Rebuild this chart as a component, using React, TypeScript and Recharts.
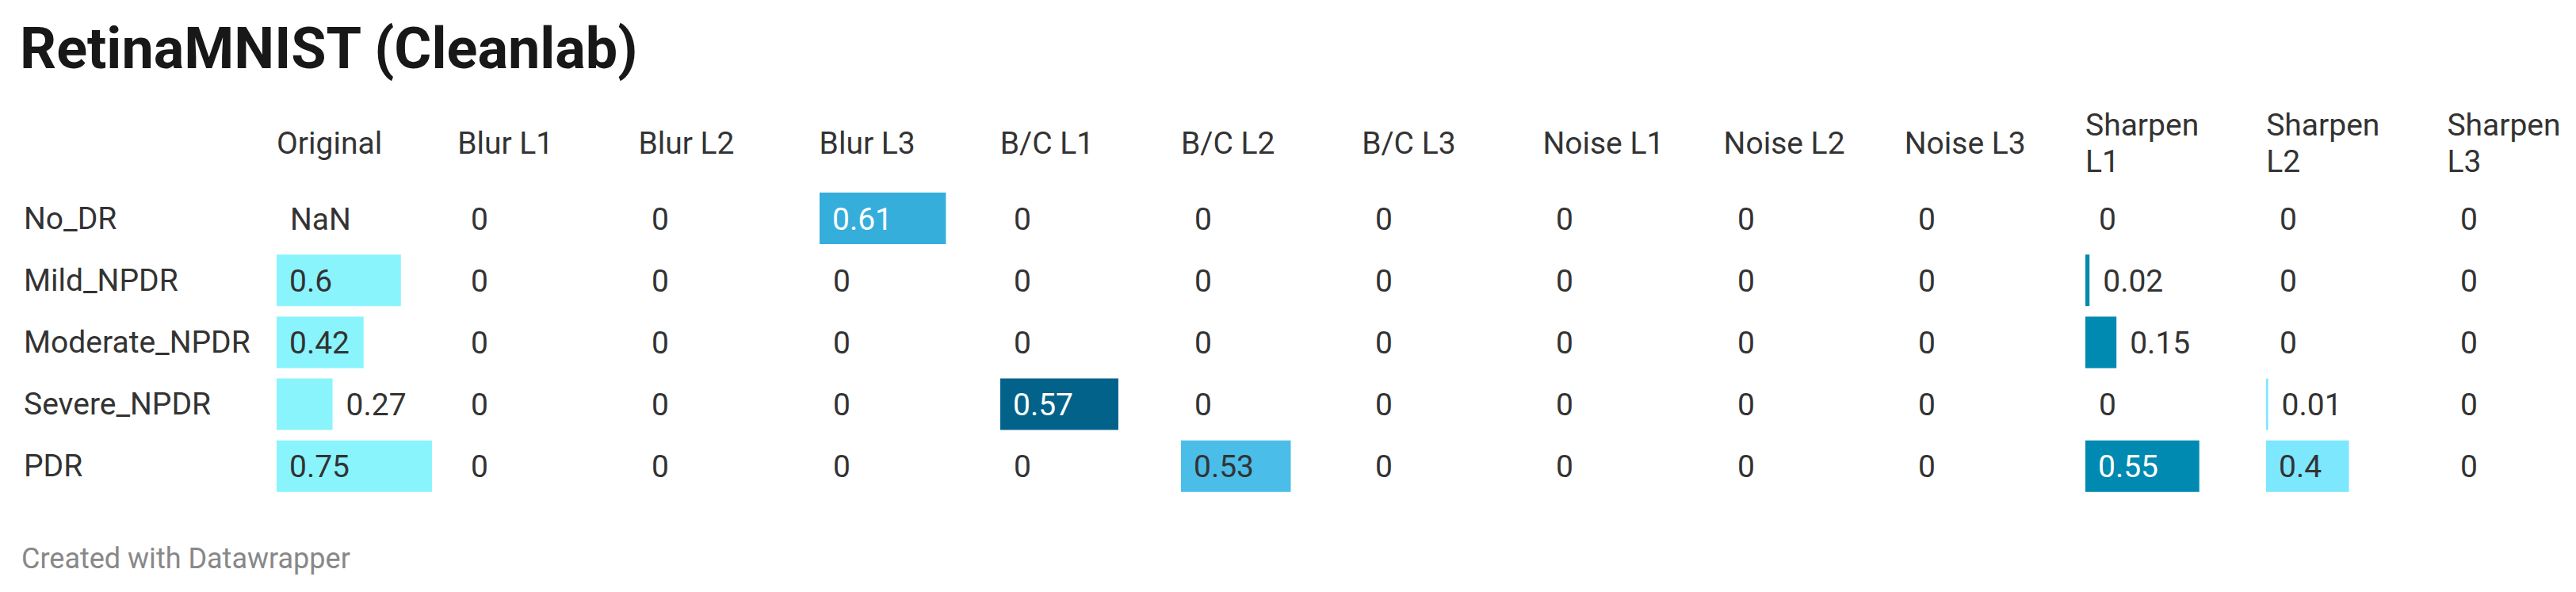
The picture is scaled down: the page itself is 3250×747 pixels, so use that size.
import { BarChart, Bar, XAxis, YAxis, LabelList } from 'recharts';

const rows = ['No_DR', 'Mild_NPDR', 'Moderate_NPDR', 'Severe_NPDR', 'PDR'];

const columns = [
  'Original',
  'Blur L1',
  'Blur L2',
  'Blur L3',
  'B/C L1',
  'B/C L2',
  'B/C L3',
  'Noise L1',
  'Noise L2',
  'Noise L3',
  'Sharpen L1',
  'Sharpen L2',
  'Sharpen L3',
];

// one list per column, in row order (null = NaN)
const original = [null, 0.6, 0.42, 0.27, 0.75];
const blurL1 = [0, 0, 0, 0, 0];
const blurL2 = [0, 0, 0, 0, 0];
const blurL3 = [0.61, 0, 0, 0, 0];
const bcL1 = [0, 0, 0, 0.57, 0];
const bcL2 = [0, 0, 0, 0, 0.53];
const bcL3 = [0, 0, 0, 0, 0];
const noiseL1 = [0, 0, 0, 0, 0];
const noiseL2 = [0, 0, 0, 0, 0];
const noiseL3 = [0, 0, 0, 0, 0];
const sharpenL1 = [0, 0.02, 0.15, 0, 0.55];
const sharpenL2 = [0, 0, 0, 0.01, 0.4];
const sharpenL3 = [0, 0, 0, 0, 0];

const values = [
  original, blurL1, blurL2, blurL3, bcL1, bcL2, bcL3,
  noiseL1, noiseL2, noiseL3, sharpenL1, sharpenL2, sharpenL3,
];

const barColors = [
  '#8af4fd', '#8af4fd', '#8af4fd', '#35aedb', '#02628a', '#4abee9', '#4abee9',
  '#4abee9', '#4abee9', '#4abee9', '#0089b1', '#7de7fe', '#7de7fe',
];
const whiteText = ['Blur L3', 'B/C L1', 'Sharpen L1'];

const FONT = 'Roboto, "Noto Sans", sans-serif';
const TEXT = '#333333';
const FS = 39;
const COL_X = 349;
const COL_W = 228.2;
const ROWS_TOP = 236;
const ROWS_H = 391;

const maxValue = Math.max(...values.flat().map((v) => v ?? 0));

// rough Roboto width of a number label
const textWidth = (s: string) =>
  s.split('').reduce((w, c) => w + (c === '.' ? 0.263 : 0.6), 0) * FS;

const ValueLabel = (props: any, light: boolean) => {
  const { x, y, width, height, value } = props;
  const label = String(value);
  const w = width < 0.5 ? 0 : width;
  const inside = w >= textWidth(label) + 20;
  return (
    <text
      x={inside ? x + 16 : x + w + 17}
      y={y + height / 2 + 14}
      fill={inside && light ? '#ffffff' : TEXT}
      fontSize={FS}
      fontFamily={FONT}
    >
      {label}
    </text>
  );
};

const Column = ({ index }: { index: number }) => {
  const name = columns[index];
  const data = rows.map((row, i) => {
    const v = values[index][i];
    return { row, value: v ?? 0, text: v === null ? 'NaN' : String(v) };
  });
  const light = whiteText.includes(name);
  return (
    <div style={{ position: 'absolute', left: COL_X + COL_W * index, top: ROWS_TOP }}>
      <BarChart
        width={228}
        height={ROWS_H}
        data={data}
        layout="vertical"
        margin={{ top: 0, right: 32, left: 0, bottom: 0 }}
      >
        <XAxis type="number" domain={[0, maxValue]} hide />
        <YAxis type="category" dataKey="row" hide />
        <Bar
          dataKey="value"
          fill={barColors[index]}
          barSize={65}
          minPointSize={0.01}
          isAnimationActive={false}
        >
          <LabelList dataKey="text" content={(p: any) => ValueLabel(p, light)} />
        </Bar>
      </BarChart>
    </div>
  );
};

const App = () => {
  return (
    <div
      style={{
        position: 'relative',
        width: 3250,
        height: 747,
        background: '#ffffff',
        fontFamily: FONT,
        color: TEXT,
        overflow: 'hidden',
      }}
    >
      <style>{'body { margin: 0; }'}</style>
      <div
        style={{
          position: 'absolute',
          left: 25,
          top: 26,
          fontSize: 72,
          lineHeight: 1,
          fontWeight: 700,
          color: '#181818',
          whiteSpace: 'nowrap',
        }}
      >
        RetinaMNIST (Cleanlab)
      </div>

      {columns.map((c, i) => (
        <div
          key={c}
          style={{
            position: 'absolute',
            left: COL_X + COL_W * i,
            top: 135,
            height: 92,
            width: 180,
            display: 'flex',
            alignItems: 'center',
            fontSize: FS,
            lineHeight: '46px',
          }}
        >
          <span>{c}</span>
        </div>
      ))}

      {rows.map((r, i) => (
        <div
          key={r}
          style={{
            position: 'absolute',
            left: 30,
            top: ROWS_TOP + (ROWS_H / rows.length) * (i + 0.5) - 23 + 0.5,
            fontSize: FS,
            lineHeight: '46px',
            whiteSpace: 'nowrap',
          }}
        >
          {r}
        </div>
      ))}

      {columns.map((c, i) => (
        <Column key={c} index={i} />
      ))}

      <div
        style={{
          position: 'absolute',
          left: 27,
          top: 687,
          fontSize: 36,
          lineHeight: 1,
          color: '#888888',
        }}
      >
        Created with Datawrapper
      </div>
    </div>
  );
};

export default App;
